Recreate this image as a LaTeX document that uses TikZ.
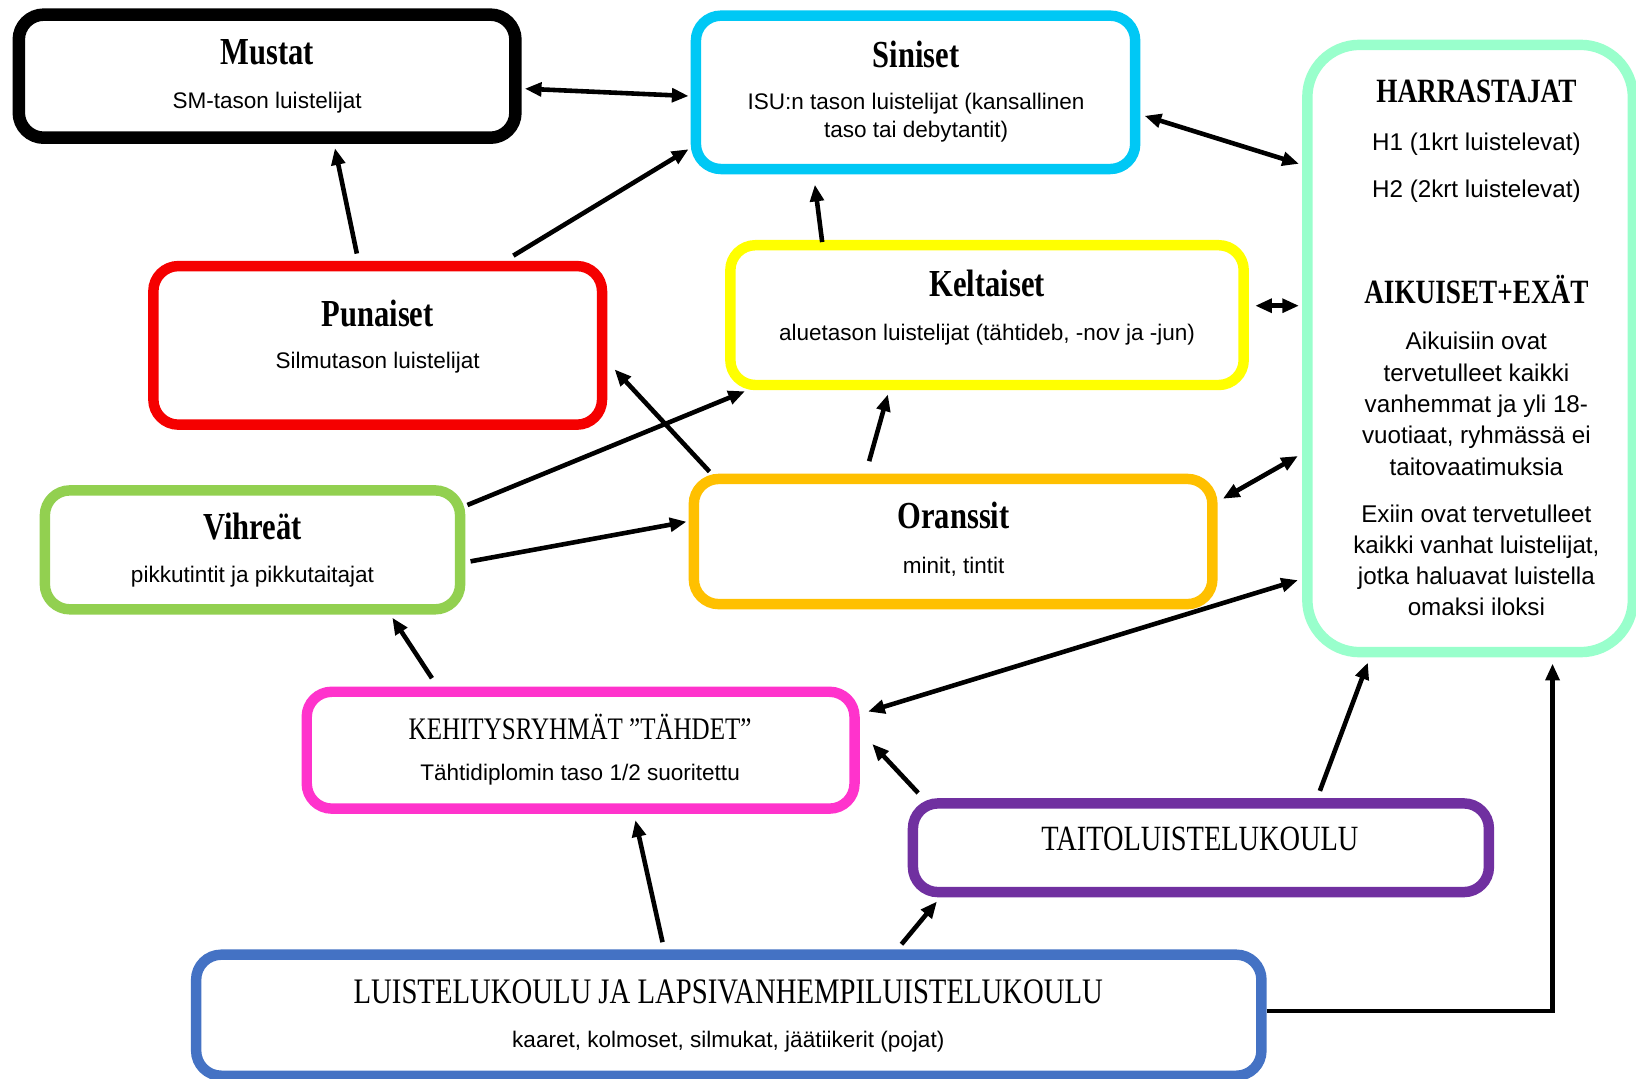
\documentclass[tikz,border=0pt]{standalone}
\usepackage{fontspec}
\setmainfont{Liberation Sans}
\newfontfamily\tfont[FakeStretch=0.8]{Liberation Serif}
\usetikzlibrary{arrows.meta,calc}
\definecolor{cCyan}{RGB}{0,200,245}
\definecolor{cMint}{RGB}{153,255,204}
\definecolor{cRed}{RGB}{245,0,0}
\definecolor{cYel}{RGB}{255,255,0}
\definecolor{cGreen}{RGB}{146,208,80}
\definecolor{cOrange}{RGB}{255,192,0}
\definecolor{cPink}{RGB}{255,51,204}
\definecolor{cPurple}{RGB}{112,48,160}
\definecolor{cBlue}{RGB}{68,114,196}
\begin{document}
\begin{tikzpicture}[x=0.5bp,y=-0.5bp,
 box/.style={draw,rounded corners=12bp,line width=5bp,inner sep=0pt,fill=white},
 ttl/.style={font=\tfont\bfseries\fontsize{18.3bp}{22bp}\selectfont, inner sep=0pt},
 httl/.style={font=\tfont\bfseries\fontsize{16.3bp}{20bp}\selectfont, inner sep=0pt},
 captl/.style={font=\tfont\fontsize{15.5bp}{19bp}\selectfont, inner sep=0pt},
 txt/.style={font=\fontsize{10.8bp}{13.5bp}\selectfont, inner sep=0pt, align=center},
 htxt/.style={font=\fontsize{11.6bp}{15bp}\selectfont, inner sep=0pt, align=center},
 arr/.style={-{Triangle[length=8bp,width=6.5bp]}, line width=2.2bp},
 dbl/.style={{Triangle[length=8bp,width=6.5bp]}-{Triangle[length=8bp,width=6.5bp]}, line width=2.2bp}]
\useasboundingbox[fill=white] (0,0) rectangle (1568,1034);

% boxes
\node[box,draw=black,line width=6bp,minimum width=238bp,minimum height=59bp] (mustat) at (256,73) {};
\node[box,draw=cCyan,minimum width=210.5bp,minimum height=73.5bp] (siniset) at (877.5,88.5) {};
\node[box,draw=cMint,rounded corners=25bp,minimum width=156bp,minimum height=291bp] (harr) at (1409,334) {};
\node[box,draw=cRed,minimum width=215bp,minimum height=76bp] (punaiset) at (362,331) {};
\node[box,draw=cYel,minimum width=246bp,minimum height=67bp] (keltaiset) at (946,302) {};
\node[box,draw=cGreen,minimum width=199bp,minimum height=57bp] (vihreat) at (242,527) {};
\node[box,draw=cOrange,minimum width=248.5bp,minimum height=60bp] (oranssit) at (913.5,519) {};
\node[box,draw=cPink,minimum width=262.5bp,minimum height=56bp] (kehitys) at (556.5,719) {};
\node[box,draw=cPurple,minimum width=276bp,minimum height=42.5bp] (taito) at (1151,812.5) {};
\node[box,draw=cBlue,minimum width=510.5bp,minimum height=58bp] (luistelu) at (698.5,973) {};

% texts
\node[ttl] (tMustat) at (256,50) {Mustat};
\node[txt] (sMustat) at (256,98) {SM-tason luistelijat};
\node[ttl] (tSiniset) at (878,52) {Siniset};
\node[txt] (sSiniset) at (878,113) {ISU:n tason luistelijat (kansallinen\\taso tai debytantit)};
\node[ttl] (tPunaiset) at (362,300) {Punaiset};
\node[txt] (sPunaiset) at (362,348) {Silmutason luistelijat};
\node[ttl] (tKeltaiset) at (946,272) {Keltaiset};
\node[txt] (sKeltaiset) at (946,321) {aluetason luistelijat (tähtideb, -nov ja -jun)};
\node[ttl] (tVihreat) at (242,505) {Vihreät};
\node[txt] (sVihreat) at (242,553) {pikkutintit ja pikkutaitajat};
\node[ttl] (tOranssit) at (914,494) {Oranssit};
\node[txt] (sOranssit) at (914,543) {minit, tintit};
\node[captl,font=\tfont\fontsize{15bp}{18bp}\selectfont] (tKehitys) at (556,697) {KEHITYSRYHMÄT ”TÄHDET”};
\node[txt] (sKehitys) at (556,742) {Tähtidiplomin taso 1/2 suoritettu};
\node[captl,font=\tfont\fontsize{17bp}{20bp}\selectfont] (tTaito) at (1150,804) {TAITOLUISTELUKOULU};
\node[captl,font=\tfont\fontsize{17.2bp}{20bp}\selectfont] (tLuistelu) at (698,951) {LUISTELUKOULU JA LAPSIVANHEMPILUISTELUKOULU};
\node[txt] (sLuistelu) at (698,998) {kaaret, kolmoset, silmukat, jäätiikerit (pojat)};

\node[httl] (tHarr) at (1415,88) {HARRASTAJAT};
\node[htxt] (h1) at (1415,138) {H1 (1krt luistelevat)};
\node[htxt] (h2) at (1415,183) {H2 (2krt luistelevat)};
\node[httl] (tAik) at (1415,277) {AIKUISET+EXÄT};
\node[htxt] (pAik) at (1415,387) {Aikuisiin ovat\\tervetulleet kaikki\\vanhemmat ja yli 18-\\vuotiaat, ryhmässä ei\\taitovaatimuksia};
\node[htxt] (pExi) at (1415,537) {Exiin ovat tervetulleet\\kaikki vanhat luistelijat,\\jotka haluavat luistella\\omaksi iloksi};

% connectors
\draw[dbl] ($(mustat.east)+(3,12)$) -- ($(siniset.west)+(-2,3.5)$);
\draw[arr] ($(punaiset.north)+(-20,-7)$) -- ($(mustat.south)+(65,4)$);
\draw[arr] ($(punaiset.north)+(130,-5)$) -- ($(siniset.south west)+(-2,-24)$);
\draw[dbl] ($(siniset.east)+(4,22.5)$) -- ($(harr.west)+(-3,-177)$);
\draw[arr] ($(keltaiset.north)+(-158,2)$) -- ($(siniset.south)+(-96.5,10)$);
\draw[dbl] ($(keltaiset.east)+(6,-9)$) -- ($(harr.west)+(-3,-41)$);
\draw[arr] ($(oranssit.north west)+(20,-2)$) -- ($(punaiset.east)+(7,23)$);
\draw[arr] ($(oranssit.north)+(-80.5,-12)$) -- ($(keltaiset.south)+(-95,4)$);
\draw[arr] ($(vihreat.east)+(2,-43)$) -- ($(keltaiset.south west)+(19,1)$);
\draw[arr] ($(vihreat.east)+(5,11)$) -- ($(oranssit.west)+(-2,-19)$);
\draw[dbl] ($(oranssit.east)+(5,-41)$) -- ($(harr.west)+(-4,103)$);
\draw[dbl] ($(kehitys.east)+(8,-37)$) -- ($(harr.west)+(-4,222)$);
\draw[arr] ($(kehitys.north)+(-142.5,-8)$) -- ($(vihreat.south)+(134,3)$);
\draw[arr] ($(taito.north west)+(10,-5)$) -- ($(kehitys.east)+(12,-6)$);
\draw[arr] ($(taito.north)+(114,-7)$) -- ($(harr.south)+(-98,5)$);
\draw[arr] ($(luistelu.north)+(-63.5,-7)$) -- ($(kehitys.south)+(52.5,6)$);
\draw[arr] ($(luistelu.north)+(165.5,-5)$) -- ($(taito.south west)+(28,4)$);
\draw[arr] ($(luistelu.east)+(0,-4)$) -| ($(harr.south)+(79,6)$);
\end{tikzpicture}
\end{document}
